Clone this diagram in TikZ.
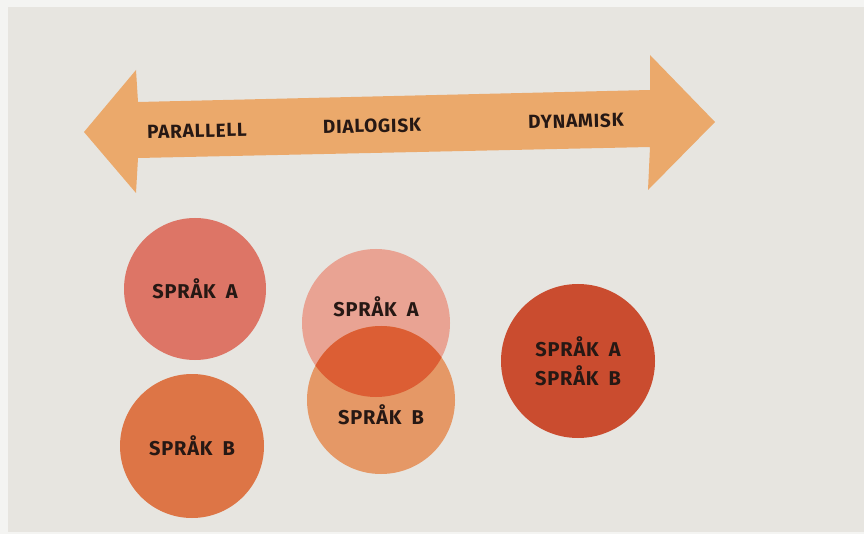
\documentclass[tikz,border=0pt]{standalone}
\usepackage{fontspec}
\setmainfont{Fira Sans}[WordSpace=1.8, LetterSpace=4]
\usepackage{xcolor}
\usetikzlibrary{positioning}

\definecolor{paper}{RGB}{231,229,224}
\definecolor{edge}{RGB}{244,244,242}
\definecolor{ink}{RGB}{38,24,20}
\definecolor{peach}{RGB}{235,169,107}
\definecolor{salmon}{RGB}{221,117,102}
\definecolor{tangerine}{RGB}{221,117,70}
\definecolor{rose}{RGB}{233,163,147}
\definecolor{apricot}{RGB}{229,152,102}
\definecolor{lens}{RGB}{220,94,52}
\definecolor{rust}{RGB}{202,76,47}

\begin{document}
\begin{tikzpicture}[x=1pt, y=-1pt,
spraknode/.style={circle, inner sep=0pt, minimum size=#1, align=center, text=ink, font=\bfseries\fontsize{20}{29}\selectfont},
axislabel/.style={text=ink, rotate=1.3, font=\bfseries\fontsize{19}{24}\selectfont},
]
%Paper
\fill[edge] (0,0) rectangle (864,534);
\fill[paper] (8,7) rectangle (864,532);
\useasboundingbox (0,0) rectangle (864,534);

%Arrow
\fill[peach] (84,132) -- (136,70) -- (138,102) -- (650,90) -- (650,55) -- (715,122)
	-- (648,190) -- (650,147) -- (138,158) -- (136,193) -- cycle;
\node[axislabel] (parallell) at (197,131) {PARALLELL};
\node[axislabel] (dialogisk) at (372,126) {DIALOGISK};
\node[axislabel] (dynamisk)  at (576,121) {DYNAMISK};

%Nodes
\node[spraknode=142pt, fill=salmon]    (par_a) at (195,289) {SPRÅK A};
\node[spraknode=144pt, fill=tangerine] (par_b) at (192,446) {SPRÅK B};
\node[spraknode=148pt, fill=rose, text depth=32pt] (dlg_a) at (376,323) {SPRÅK A};
\node[spraknode=148pt, fill=apricot, text height=50pt] (dlg_b) at (381,400) {SPRÅK B};
\node[spraknode=154pt, fill=rust] (dyn_ab) at (578,361) {SPRÅK A\\SPRÅK B};

%Overlap
\begin{scope}
\clip (dlg_a.center) circle (74pt);
\fill[lens] (dlg_b.center) circle (74pt);
\end{scope}

\end{tikzpicture}
\end{document}
